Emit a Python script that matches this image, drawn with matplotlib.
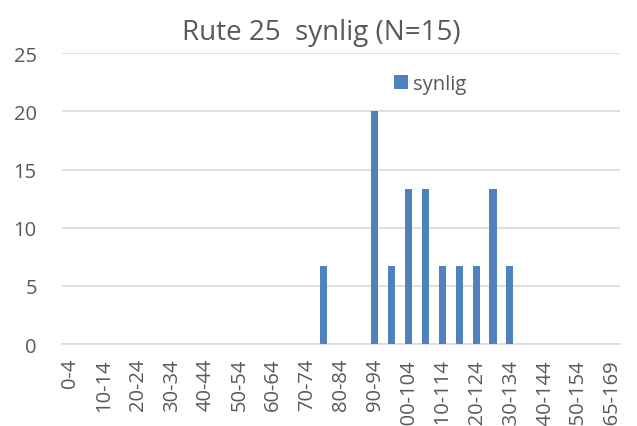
import numpy as np
import matplotlib as mpl
import matplotlib.pyplot as plt

mpl.rcParams.update({
    'font.family': ['Open Sans', 'DejaVu Sans'],
    'figure.facecolor': 'white',
    'axes.facecolor': 'white',
})

CATEGORIES = [f'{a}-{a + 4}' for a in range(0, 160, 5)] + ['165-169']
SYNLIG = [0, 0, 0, 0, 0, 0, 0, 0, 0, 0, 0, 0, 0, 0, 0, 6.67,
          0, 0, 20, 6.67, 13.33, 13.33, 6.67, 6.67, 6.67, 13.33, 6.67,
          0, 0, 0, 0, 0, 0]
TITLE = 'Rute 25  synlig (N=15)'

C_BAR = '#4F81BD'
C_TEXT = '#595959'
C_GRID = '#D9D9D9'
FS_TICK = 14.5

fig = plt.figure(figsize=(6.37, 4.27), dpi=100)
ax = fig.add_axes([0.097, 0.192, 0.876, 0.681])

x = np.arange(len(CATEGORIES))
ax.bar(x, SYNLIG, width=0.42, color=C_BAR, label='synlig', zorder=3)

ax.set_xlim(-0.5, len(CATEGORIES) - 0.5)
ax.set_ylim(0, 25)
ax.set_yticks(range(0, 26, 5))
ax.set_xticks(x[::2])
ax.set_xticklabels(CATEGORIES[::2], rotation=90)
ax.tick_params(axis='both', length=0, colors=C_TEXT, labelsize=FS_TICK)
ax.tick_params(axis='y', pad=18)
ax.tick_params(axis='x', pad=10)

ax.grid(axis='y', color=C_GRID, lw=1.2, zorder=0)
for s in ['top', 'right', 'left']:
    ax.spines[s].set_visible(False)
ax.spines['bottom'].set_color(C_GRID)
ax.spines['bottom'].set_linewidth(1.2)

fig.text(0.504, 0.922, TITLE, ha='center', va='center', fontsize=20, color=C_TEXT)

fig.legend(loc='center left', bbox_to_anchor=(0.590, 0.801), frameon=False,
           fontsize=FS_TICK, labelcolor=C_TEXT, handlelength=0.7, handleheight=0.7,
           handletextpad=0.25)

fig.savefig('out.png', dpi=100)
